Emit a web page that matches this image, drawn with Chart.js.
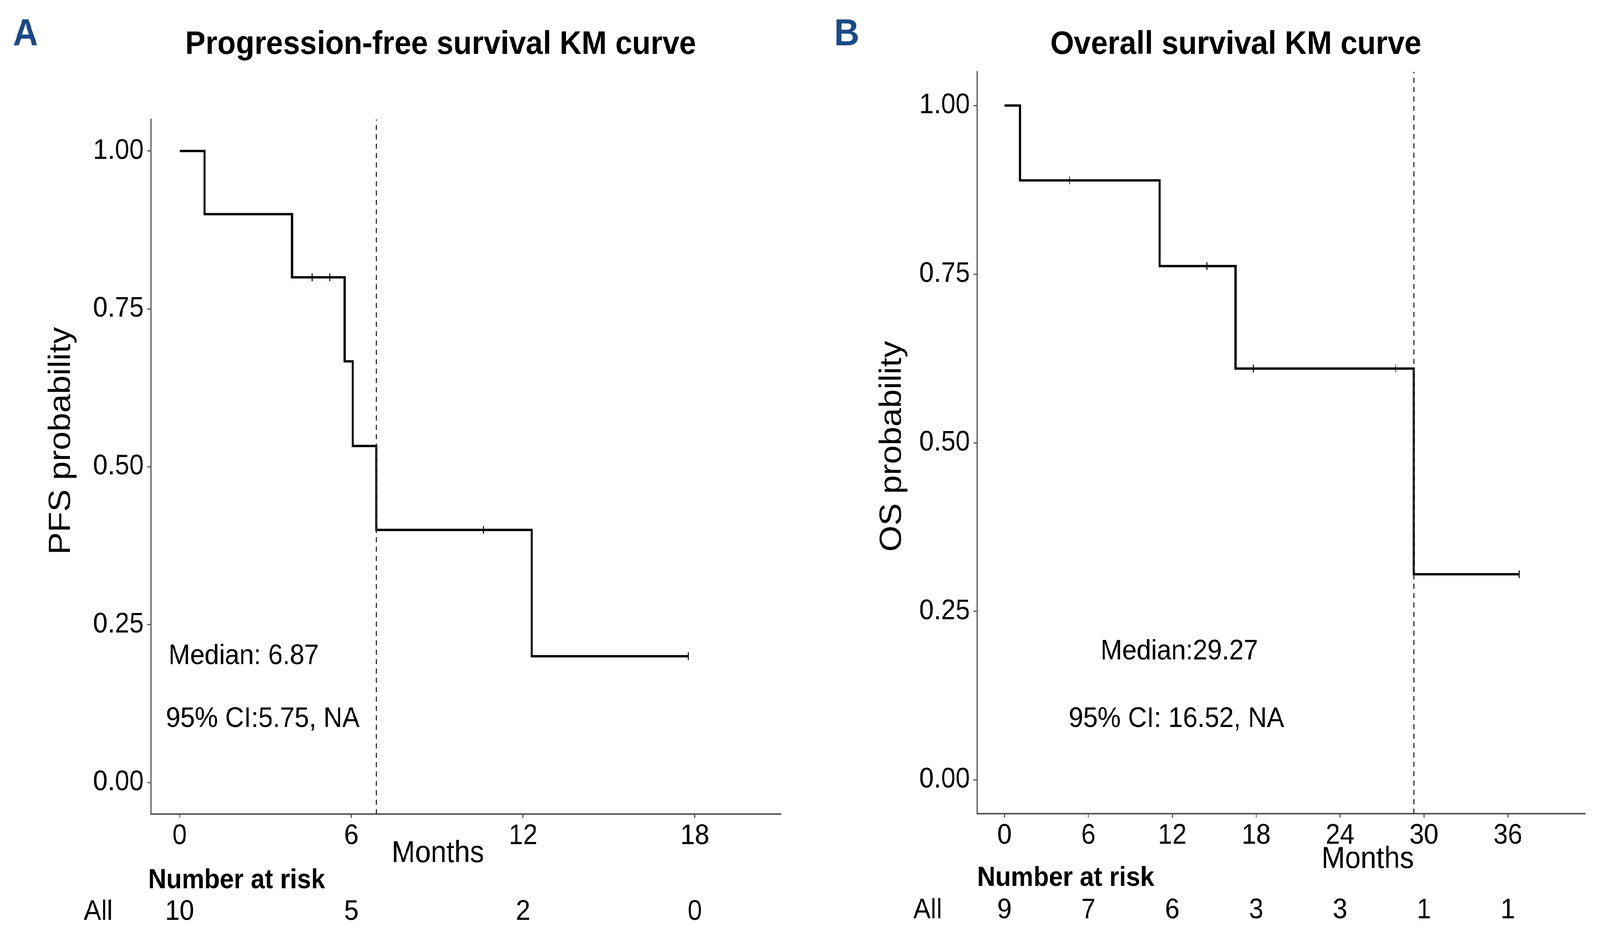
<!DOCTYPE html>
<html>
<head>
<meta charset="utf-8">
<script src="https://cdn.jsdelivr.net/npm/chart.js@4.4.1/dist/chart.umd.min.js"></script>
<style>
  html, body { margin: 0; padding: 0; background: #fff; overflow: hidden; }
  #wrap { position: absolute; left: 0; top: 0; width: 4429px; height: 2405px; background: #fff; transform-origin: 0 0; }
  canvas { position: absolute; top: 0; }
  #pfs { left: 0; }
  #os { left: 2215px; }
</style>
</head>
<body>
<div id="wrap">
  <canvas id="pfs" width="2215" height="2405"></canvas>
  <canvas id="os" width="2214" height="2405"></canvas>
</div>
<script>
// Panel A - progression-free survival
const pfsTimes = [0, 0.87, 3.93, 5.77, 6.05, 6.87, 12.3, 17.77];
const pfsSurv = [1, 0.9, 0.8, 0.667, 0.533, 0.4, 0.2, 0.2];
const pfsCensorTimes = [4.63, 5.25, 10.62, 17.77];
const pfsCensorSurv = [0.8, 0.8, 0.4, 0.2];
const pfsTicks = [0, 6, 12, 18];
const pfsAtRisk = [10, 5, 2, 0];
const pfsMedian = 6.87;

// Panel B - overall survival
const osTimes = [0, 1.11, 11.1, 16.52, 29.27, 36.8];
const osSurv = [1, 0.889, 0.762, 0.61, 0.305, 0.305];
const osCensorTimes = [4.65, 14.47, 17.8, 27.98, 36.8];
const osCensorSurv = [0.889, 0.762, 0.61, 0.61, 0.305];
const osTicks = [0, 6, 12, 18, 24, 30, 36];
const osAtRisk = [9, 7, 6, 3, 3, 1, 1];
const osMedian = 29.27;

const yTicks = [0, 0.25, 0.5, 0.75, 1];

const FONT = "'Liberation Sans', Arial, Helvetica, sans-serif";
const AXIS_COLOR = '#555';

// layout is written for a 4429x2405 page; the browser caps the width, so fit it
const wrap = document.getElementById('wrap');
wrap.style.transform = 'scale(' + (window.innerWidth / 4429) + ',' + (window.innerHeight / 2405) + ')';

const toPoints = (xs, ys) => xs.map((x, i) => ({ x: x, y: ys[i] }));

// draws titles, annotations and the number-at-risk table
const kmText = {
  id: 'kmText',
  afterDraw(chart, args, o) {
    const ctx = chart.ctx;
    const xs = chart.scales.x, ys = chart.scales.y;
    ctx.save();
    ctx.textBaseline = 'middle';

    // panel letter
    ctx.fillStyle = '#1b4a86';
    ctx.font = 'bold 96px ' + FONT;
    ctx.textAlign = 'left';
    ctx.fillText(o.letter, o.letterX, o.letterY);

    ctx.fillStyle = '#000';
    ctx.font = 'bold 84px ' + FONT;
    ctx.textAlign = 'center';
    ctx.fillText(o.title, o.titleX, o.titleY);

    // y title
    ctx.save();
    ctx.translate(o.yTitleX, o.yTitleY);
    ctx.rotate(-Math.PI / 2);
    ctx.font = '86px ' + FONT;
    ctx.fillText(o.yTitle, 0, 0);
    ctx.restore();

    // x title
    ctx.font = '78px ' + FONT;
    ctx.fillText('Months', o.xTitleX, o.xTitleY);

    // median / CI notes
    ctx.font = '72px ' + FONT;
    o.notes.forEach(n => {
      ctx.textAlign = n.align;
      ctx.fillText(n.text, xs.getPixelForValue(n.x), ys.getPixelForValue(n.y));
    });

    // number at risk
    ctx.textAlign = 'left';
    ctx.font = 'bold 70px ' + FONT;
    ctx.fillText('Number at risk', o.riskHeaderX, o.riskHeaderY);
    ctx.textAlign = 'center';
    ctx.font = '72px ' + FONT;
    ctx.fillText('All', o.riskAllX, o.riskY);
    o.ticks.forEach((t, i) => {
      ctx.fillText(String(o.atRisk[i]), xs.getPixelForValue(t), o.riskY);
    });
    ctx.restore();
  }
};

function makeChart(id, p) {
  const ctx = document.getElementById(id).getContext('2d');
  return new Chart(ctx, {
    type: 'line',
    data: {
      datasets: [
        {
          data: [{ x: p.median, y: -0.05 }, { x: p.median, y: 1.05 }],
          borderColor: '#333',
          borderWidth: 3,
          borderDash: [13, 11],
          pointRadius: 0
        },
        {
          data: toPoints(p.times, p.surv),
          stepped: true,
          borderColor: '#000',
          borderWidth: 6,
          pointRadius: 0
        },
        {
          data: toPoints(p.censorTimes, p.censorSurv),
          showLine: false,
          pointStyle: 'line',
          rotation: 90,
          pointRadius: 10,
          borderColor: '#000',
          borderWidth: 2.5
        }
      ]
    },
    options: {
      responsive: false,
      devicePixelRatio: 1,
      animation: false,
      layout: { padding: { left: 0, top: p.top, right: p.right, bottom: 0 } },
      plugins: {
        legend: { display: false },
        tooltip: { enabled: false },
        kmText: p.text
      },
      scales: {
        x: {
          type: 'linear',
          min: p.xMin,
          max: p.xMax,
          afterBuildTicks: s => { s.ticks = p.ticks.map(v => ({ value: v })); },
          afterFit: s => { s.height = 2405 - p.bottom; },
          grid: { drawOnChartArea: false, drawTicks: true, tickLength: 10, color: AXIS_COLOR, lineWidth: 3 },
          border: { display: true, color: AXIS_COLOR, width: 4 },
          ticks: { color: '#000', font: { family: FONT, size: 72 }, padding: 4, maxRotation: 0, autoSkip: false }
        },
        y: {
          type: 'linear',
          min: -0.05,
          max: 1.05,
          afterBuildTicks: s => { s.ticks = yTicks.map(v => ({ value: v })); },
          afterFit: s => { s.width = p.left; },
          grid: { drawOnChartArea: false, drawTicks: true, tickLength: 10, color: AXIS_COLOR, lineWidth: 3 },
          border: { display: true, color: AXIS_COLOR, width: 4 },
          ticks: {
            color: '#000',
            font: { family: FONT, size: 72 },
            padding: 10,
            callback: v => v.toFixed(2)
          }
        }
      }
    },
    plugins: [kmText]
  });
}

makeChart('pfs', {
  times: pfsTimes, surv: pfsSurv,
  censorTimes: pfsCensorTimes, censorSurv: pfsCensorSurv,
  median: pfsMedian, ticks: pfsTicks,
  xMin: -1, xMax: 21,
  left: 418, top: 306, right: 54, bottom: 2085,
  text: {
    letter: 'A', letterX: 36, letterY: 90,
    title: 'Progression-free survival KM curve', titleX: 1220, titleY: 115,
    yTitle: 'PFS probability', yTitleX: 170, yTitleY: 1129,
    xTitleX: 1212, xTitleY: 2186,
    notes: [
      { text: 'Median: 6.87', x: -0.39, y: 0.2, align: 'left' },
      { text: '95% CI:5.75, NA', x: -0.48, y: 0.1, align: 'left' }
    ],
    riskHeaderX: 410, riskHeaderY: 2256, riskAllX: 272, riskY: 2336,
    ticks: pfsTicks, atRisk: pfsAtRisk
  }
});

makeChart('os', {
  times: osTimes, surv: osSurv,
  censorTimes: osCensorTimes, censorSurv: osCensorSurv,
  median: osMedian, ticks: osTicks,
  xMin: -1.95, xMax: 41.5,
  left: 490, top: 184, right: 42, bottom: 2084,
  text: {
    letter: 'B', letterX: 94, letterY: 90,
    title: 'Overall survival KM curve', titleX: 1206, titleY: 115,
    yTitle: 'OS probability', yTitleX: 255, yTitleY: 1143,
    xTitleX: 1571, xTitleY: 2201,
    notes: [
      { text: 'Median:29.27', x: 12.5, y: 0.19, align: 'center' },
      { text: '95% CI: 16.52, NA', x: 12.3, y: 0.09, align: 'center' }
    ],
    riskHeaderX: 490, riskHeaderY: 2250, riskAllX: 353, riskY: 2332,
    ticks: osTicks, atRisk: osAtRisk
  }
});
</script>
</body>
</html>
